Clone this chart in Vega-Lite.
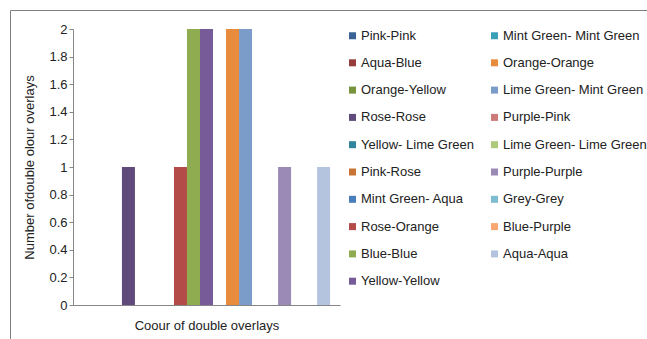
{
  "$schema": "https://vega.github.io/schema/vega-lite/v6.json",
  "autosize": {"type": "none"},
  "padding": {"left": 10, "top": 10, "right": -4, "bottom": -4},
  "width": 641,
  "height": 333,
  "background": "white",
  "config": {
    "font": "Liberation Sans",
    "view": {"stroke": "#808080", "strokeWidth": 1},
    "axis": {"grid": false}
  },
  "data": {
    "values": [
      {"category": "Colour", "series": "Pink-Pink", "count": 0},
      {"category": "Colour", "series": "Aqua-Blue", "count": 0},
      {"category": "Colour", "series": "Orange-Yellow", "count": 0},
      {"category": "Colour", "series": "Rose-Rose", "count": 1},
      {"category": "Colour", "series": "Yellow- Lime Green", "count": 0},
      {"category": "Colour", "series": "Pink-Rose", "count": 0},
      {"category": "Colour", "series": "Mint Green- Aqua", "count": 0},
      {"category": "Colour", "series": "Rose-Orange", "count": 1},
      {"category": "Colour", "series": "Blue-Blue", "count": 2},
      {"category": "Colour", "series": "Yellow-Yellow", "count": 2},
      {"category": "Colour", "series": "Mint Green- Mint Green", "count": 0},
      {"category": "Colour", "series": "Orange-Orange", "count": 2},
      {"category": "Colour", "series": "Lime Green- Mint Green", "count": 2},
      {"category": "Colour", "series": "Purple-Pink", "count": 0},
      {"category": "Colour", "series": "Lime Green- Lime Green", "count": 0},
      {"category": "Colour", "series": "Purple-Purple", "count": 1},
      {"category": "Colour", "series": "Grey-Grey", "count": 0},
      {"category": "Colour", "series": "Blue-Purple", "count": 0},
      {"category": "Colour", "series": "Aqua-Aqua", "count": 1}
    ]
  },
  "mark": {"type": "bar", "strokeWidth": 0},
  "encoding": {
    "x": {
      "field": "category",
      "type": "nominal",
      "scale": {"range": [63, 330], "paddingInner": 0, "paddingOuter": 0.04},
      "axis": {
        "orient": "bottom",
        "offset": -38,
        "labels": false,
        "ticks": false,
        "domainColor": "#868686",
        "title": "Coour of double overlays",
        "titleFontSize": 13,
        "titleFontWeight": "normal",
        "titleColor": "#222222",
        "titlePadding": 14
      }
    },
    "xOffset": {
      "field": "series",
      "type": "nominal",
      "scale": {
        "domain": ["Pink-Pink", "Aqua-Blue", "Orange-Yellow", "Rose-Rose", "Yellow- Lime Green", "Pink-Rose", "Mint Green- Aqua", "Rose-Orange", "Blue-Blue", "Yellow-Yellow", "Mint Green- Mint Green", "Orange-Orange", "Lime Green- Mint Green", "Purple-Pink", "Lime Green- Lime Green", "Purple-Purple", "Grey-Grey", "Blue-Purple", "Aqua-Aqua"],
        "paddingInner": 0,
        "paddingOuter": 0
      }
    },
    "y": {
      "field": "count",
      "type": "quantitative",
      "scale": {"domain": [0, 2], "range": [295, 19], "nice": false, "zero": true},
      "axis": {
        "offset": -63,
        "values": [0, 0.2, 0.4, 0.6, 0.8, 1, 1.2, 1.4, 1.6, 1.8, 2],
        "format": "~g",
        "labelFontSize": 13,
        "labelColor": "#222222",
        "labelPadding": 2,
        "tickSize": 4,
        "tickColor": "#868686",
        "domainColor": "#868686",
        "title": "Number ofdouble olour overlays",
        "titleFontSize": 13,
        "titleFontWeight": "normal",
        "titleColor": "#222222",
        "titlePadding": 12
      }
    },
    "color": {
      "field": "series",
      "type": "nominal",
      "scale": {
        "domain": ["Pink-Pink", "Aqua-Blue", "Orange-Yellow", "Rose-Rose", "Yellow- Lime Green", "Pink-Rose", "Mint Green- Aqua", "Rose-Orange", "Blue-Blue", "Yellow-Yellow", "Mint Green- Mint Green", "Orange-Orange", "Lime Green- Mint Green", "Purple-Pink", "Lime Green- Lime Green", "Purple-Purple", "Grey-Grey", "Blue-Purple", "Aqua-Aqua"],
        "range": ["#3B6496", "#963C3A", "#77933C", "#604A7B", "#31859C", "#C77434", "#4A7EBB", "#B34B48", "#8FAD50", "#775B98", "#3AA0B8", "#E88B3D", "#7B9BC9", "#CD7B7A", "#AFC97A", "#9B8AB5", "#7CBDD0", "#F8A772", "#B4C3DE"]
      },
      "legend": {
        "orient": "none",
        "legendX": 336,
        "legendY": 19,
        "columns": 2,
        "direction": "vertical",
        "title": null,
        "symbolType": "square",
        "symbolSize": 49,
        "symbolStrokeWidth": 0,
        "symbolOpacity": 1,
        "labelFontSize": 13,
        "labelColor": "#222222",
        "labelOffset": 2,
        "labelLimit": 300,
        "rowPadding": 13.3,
        "columnPadding": 14
      }
    }
  }
}
